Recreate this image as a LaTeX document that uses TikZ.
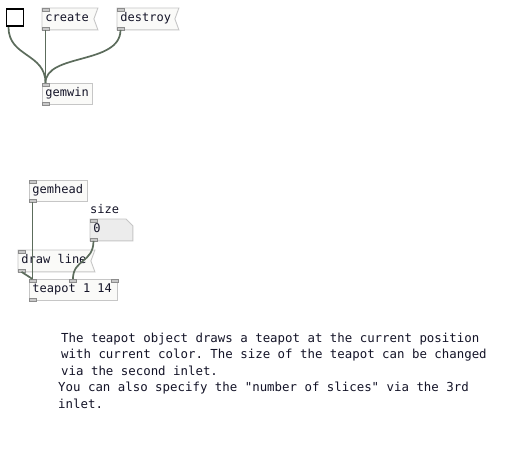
\documentclass[tikz,border=0pt]{standalone}
\usepackage{fontspec}
\newfontfamily\pdmono{DejaVu Sans Mono}
\usetikzlibrary{positioning}
\pgfdeclarelayer{background}
\pgfsetlayers{background,main}
\definecolor{wirecol}{RGB}{92,108,92}
\definecolor{boxcol}{RGB}{198,198,198}
\definecolor{boxfill}{RGB}{250,250,248}
\definecolor{numfill}{RGB}{236,236,236}
\definecolor{portfill}{RGB}{200,200,200}
\definecolor{portline}{RGB}{140,140,140}
\definecolor{txtcol}{RGB}{20,20,40}
\newcommand{\pdtext}{\pdmono\fontsize{12}{16}\selectfont\frenchspacing}
\newcommand{\pdnote}{\pdmono\fontsize{12.4}{16.2}\selectfont\frenchspacing}

\begin{document}
\begin{tikzpicture}[x=1pt,y=-1pt,
  pdobj/.style={draw=boxcol, fill=boxfill, line width=0.9pt, anchor=north west,
    inner xsep=3pt, inner ysep=0pt, minimum height=21pt, text height=9pt,
    text depth=3pt, font=\pdtext, text=txtcol, align=left,
    execute at begin node={\spaceskip=0pt\xspaceskip=0pt}},
  pdmsg/.style={pdobj, draw=none, fill=none},
  port/.style={draw=portline, fill=portfill, line width=0.6pt},
  wire/.style={draw=wirecol, line width=1.7pt},
  comment/.style={anchor=base west, inner sep=0pt, font=\pdnote, text=txtcol, align=left}]
   \useasboundingbox (0,0) rectangle (513,457);

   % window part
   \node[draw, line width=1.7pt, minimum size=17pt, inner sep=0pt, anchor=north west] (tgl) at (5.5,8.5) {};
   \node[pdmsg, text width=45pt] (create) at (42,8) {create};
   \node[pdmsg, text width=51pt] (destroy) at (117,8) {destroy};
   \node[pdobj, text width=44pt] (gemwin) at (42,83) {gemwin};

   % render chain
   \node[comment, font=\pdtext] (sizelbl) at (90,213) {size};
   \node[pdobj, text width=52pt] (gemhead) at (29,180) {gemhead};
   \node[pdmsg, text width=36pt] (size) at (90,219) {0};
   \node[pdmsg, text width=66pt] (drawline) at (18,250) {\mbox{draw line}};
   \node[pdobj, text width=82pt] (teapot) at (29,279) {\mbox{teapot 1 14}};

   \node[comment] (info) at (61,375) {The teapot object draws a teapot at the current position\\
     with current color. The size of the teapot can be changed\\
     via the second inlet.};
   \node[comment] (info2) at (58,408) {You can also specify the "number of slices" via the 3rd\\
     inlet.};

   \begin{pgfonlayer}{background}
     \fill[white] (0,0) rectangle (513,457);
     \foreach \m in {create,destroy,drawline}
       \draw[draw=boxcol, fill=boxfill, line width=0.9pt] (\m.north west) -- ([xshift=4pt]\m.north east)
         -- (\m.east) -- ([xshift=4pt]\m.south east) -- (\m.south west) -- cycle;
     \draw[draw=boxcol, fill=numfill, line width=0.9pt] (size.north west) -- ([xshift=-7pt]size.north east)
       -- ([yshift=-7pt]size.north east) -- (size.south east) -- (size.south west) -- cycle;
   \end{pgfonlayer}

   % inlets and outlets
   \foreach \b in {create,destroy,gemwin,gemhead,size,drawline,teapot}
   {
     \draw[port] (\b.north west) rectangle ++(7,3);
     \draw[port] (\b.south west) rectangle ++(7,-3);
   }
   \draw[port] ([xshift=-4pt]teapot.north) rectangle ++(7,3);
   \draw[port] (teapot.north east) rectangle ++(-7,3);

   % connections
   \draw[wire] ([xshift=3pt]tgl.south west) .. controls +(0,30) and +(0,-30) .. ([xshift=3.5pt]gemwin.north west);
   \draw[wire] ([xshift=3.5pt]create.south west) -- ([xshift=3.5pt]gemwin.north west);
   \draw[wire] ([xshift=3.5pt]destroy.south west) .. controls +(0,35) and +(0,-30) .. ([xshift=3.5pt]gemwin.north west);
   \draw[wire] ([xshift=3.5pt]gemhead.south west) -- ([xshift=3.5pt]teapot.north west);
   \draw[wire] ([xshift=3.5pt]drawline.south west) -- ([xshift=3.5pt]teapot.north west);
   \draw[wire] ([xshift=3.5pt]size.south west) .. controls +(0,22) and +(0,-20) .. ([xshift=-0.5pt]teapot.north);
\end{tikzpicture}
\end{document}
